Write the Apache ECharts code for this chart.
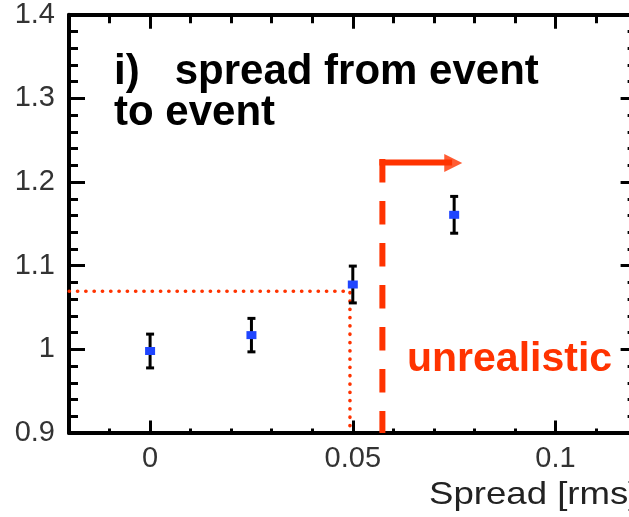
<!DOCTYPE html>
<html>
<head>
<meta charset="utf-8">
<script src="https://cdn.jsdelivr.net/npm/echarts@6/dist/echarts.min.js"></script>
<style>
  html, body { margin: 0; padding: 0; background: #fff; }
  #chart { width: 629px; height: 517px; }
</style>
</head>
<body>
<div id="chart"></div>
<script>
// Measured response vs. event-to-event spread
const spread = [0, 0.025, 0.05, 0.075];
const ratio = [0.998, 1.017, 1.0775, 1.1608];
const ratioErr = [0.0202, 0.02, 0.022, 0.022];

// Axis ranges and tick values
const xRange = [-0.02, 0.12];
const yRange = [0.9, 1.4];
const xMajorTicks = [0, 0.05, 0.1];
const xMinorTicks = [-0.01, 0.01, 0.02, 0.03, 0.04, 0.06, 0.07, 0.08, 0.09, 0.11];

// Reading of the 0.05 point: level and spread where it is met
const readX = [-0.022, 0.0493, 0.0493];
const readY = [1.0695, 1.0695, 0.9];

// Boundary of the unrealistic region and its arrow
const limitX = [0.0573, 0.0573];
const limitY = [1.2274, 0.9];
const arrowX = [0.05656, 0.0745];
const arrowY = [1.2234, 1.2234];
const arrowHead = [0.07477, 1.2228];

const RED = '#ff3300';
const FONT = 'Liberation Sans, Arial, Helvetica, sans-serif';

const chart = echarts.init(document.getElementById('chart'), null, { renderer: 'canvas' });

function xAxisDef(position, ticks, len, withLine, withLabel) {
  return {
    type: 'value', position: position, min: xRange[0], max: xRange[1],
    axisLine: { show: withLine, onZero: false, lineStyle: { color: '#000', width: 4 } },
    axisTick: { show: true, inside: true, length: len, customValues: ticks,
                lineStyle: { color: '#000', width: 3 } },
    axisLabel: withLabel ? {
      show: true, customValues: ticks, margin: 11, fontSize: 29,
      fontFamily: FONT, color: '#333'
    } : { show: false },
    splitLine: { show: false }
  };
}

function yAxisDef(position, len, minorLen, withLabel) {
  return {
    type: 'value', position: position, min: yRange[0], max: yRange[1], interval: 0.1,
    axisLine: { show: true, onZero: false, lineStyle: { color: '#000', width: 4 } },
    axisTick: { show: true, inside: true, length: len, lineStyle: { color: '#000', width: 3 } },
    minorTick: { show: true, splitNumber: 5, length: minorLen, lineStyle: { color: '#000', width: 3 } },
    axisLabel: withLabel ? {
      show: true, margin: 14, fontSize: 29, fontFamily: FONT, color: '#333',
      padding: [6, 0, 0, 0]
    } : { show: false },
    splitLine: { show: false },
    minorSplitLine: { show: false }
  };
}

const option = {
  animation: false,
  backgroundColor: '#fff',
  grid: { left: 69, top: 14.7, right: -7.6, bottom: 84, outerBoundsMode: 'none', containLabel: false },
  xAxis: [
    xAxisDef('bottom', xMajorTicks, 12.5, true, true),
    xAxisDef('bottom', xMinorTicks, 4.5, false, false),
    xAxisDef('top', xMajorTicks, 14, true, false),
    xAxisDef('top', xMinorTicks, 8.5, false, false)
  ],
  yAxis: [
    yAxisDef('left', 16, 9, true),
    yAxisDef('right', 16, 9, false)
  ],
  graphic: [
    {
      type: 'text', x: 429, y: 496, scaleX: 1.2,
      style: { text: 'Spread [rms]', x: 0, y: 0, fontSize: 30.5, fontFamily: FONT,
               fill: '#222', verticalAlign: 'middle', align: 'left' }
    },
    {
      type: 'text', x: 114, y: 92.8,
      style: { text: 'i)   spread from event\nto event', fontSize: 42, fontWeight: 'bold',
               fontFamily: FONT, fill: '#000', lineHeight: 41.6,
               verticalAlign: 'middle', align: 'left' }
    },
    {
      type: 'text', x: 407, y: 359.6,
      style: { text: 'unrealistic', fontSize: 41, fontWeight: 'bold', fontFamily: FONT,
               fill: RED, verticalAlign: 'middle', align: 'left' }
    }
  ],
  series: [
    {
      name: 'reading', type: 'line', clip: false, silent: true, symbol: 'none',
      data: readX.map((x, i) => [x, readY[i]]),
      lineStyle: { color: RED, width: 3.6, type: [0.2, 8.1], cap: 'round' },
      z: 3
    },
    {
      name: 'limit', type: 'line', clip: false, silent: true, symbol: 'none',
      data: limitX.map((x, i) => [x, limitY[i]]),
      lineStyle: { color: RED, width: 6, type: [23.5, 18.5], cap: 'butt' },
      z: 3
    },
    {
      name: 'arrow', type: 'line', clip: false, silent: true, symbol: 'none',
      data: arrowX.map((x, i) => [x, arrowY[i]]),
      lineStyle: { color: RED, width: 6, type: 'solid', cap: 'butt' },
      z: 3
    },
    {
      name: 'arrowHead', type: 'scatter', silent: true, clip: false,
      symbol: 'triangle', symbolSize: [18, 18], symbolRotate: -90,
      itemStyle: { color: RED },
      data: [arrowHead],
      z: 3
    },
    {
      name: 'ratio', type: 'custom', xAxisIndex: 0, yAxisIndex: 0, clip: false,
      data: spread.map((s, i) => [s, ratio[i], ratioErr[i]]),
      renderItem: function (params, api) {
        const x = api.value(0), y = api.value(1), e = api.value(2);
        const c = api.coord([x, y]);
        const hi = api.coord([x, y + e]);
        const lo = api.coord([x, y - e]);
        const cap = 4;
        const st = { stroke: '#000', lineWidth: 3 };
        return {
          type: 'group',
          children: [
            { type: 'line', shape: { x1: c[0], y1: hi[1], x2: c[0], y2: lo[1] }, style: st },
            { type: 'line', shape: { x1: c[0] - cap, y1: hi[1], x2: c[0] + cap, y2: hi[1] }, style: st },
            { type: 'line', shape: { x1: c[0] - cap, y1: lo[1], x2: c[0] + cap, y2: lo[1] }, style: st },
            { type: 'rect', shape: { x: c[0] - 5, y: c[1] - 4, width: 10, height: 8 },
              style: { fill: '#1f45ff' } }
          ]
        };
      },
      z: 4
    }
  ]
};

chart.setOption(option);
</script>
</body>
</html>
